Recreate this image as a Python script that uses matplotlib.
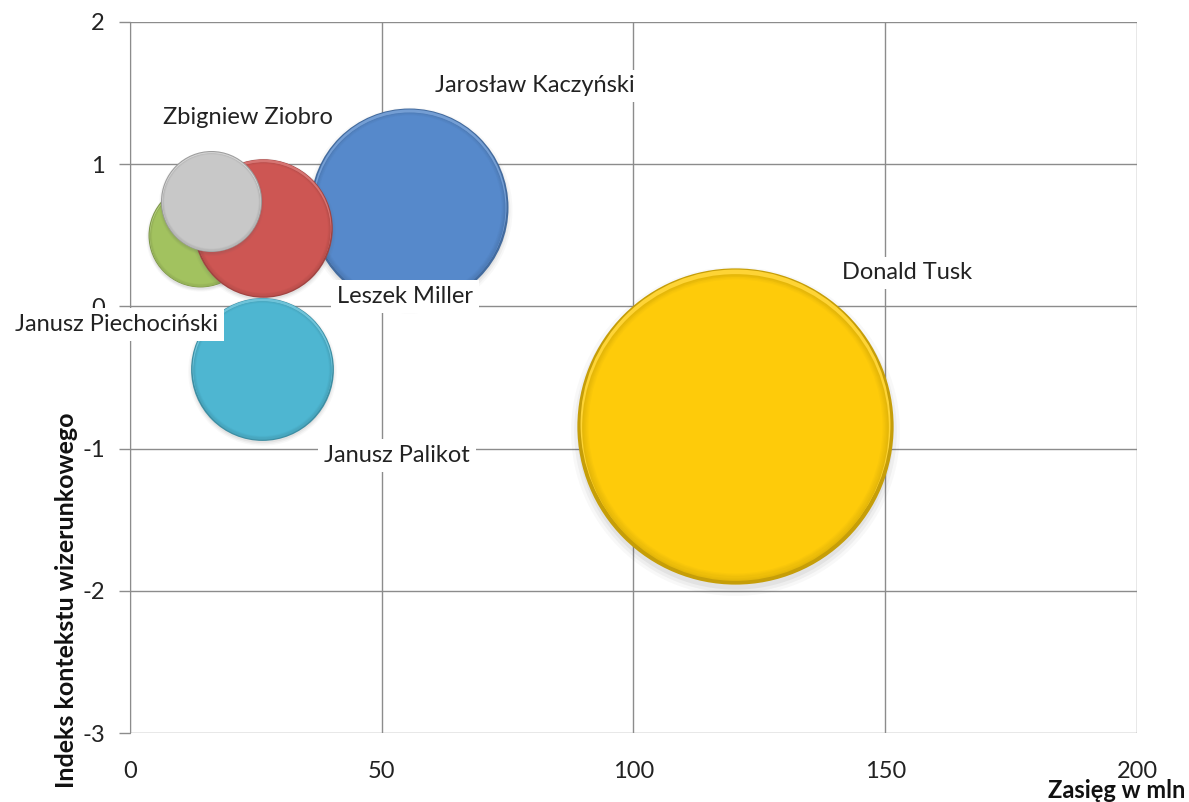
import numpy as np
import matplotlib
matplotlib.use("Agg")
import matplotlib.pyplot as plt
from matplotlib.colors import to_rgb
from matplotlib.transforms import offset_copy

# Politicians: reach (mln), image-context index, bubble size
nazwiska = ["Donald Tusk", "Jarosław Kaczyński", "Janusz Piechociński",
            "Leszek Miller", "Zbigniew Ziobro", "Janusz Palikot"]
zasieg = [120.1, 55.4, 13.9, 26.4, 16.1, 26.2]
indeks = [-0.84, 0.70, 0.50, 0.55, 0.74, -0.44]
wielkosc = [250, 98, 27, 48, 25.5, 51]
kolory = ["#FECB0A", "#5689CB", "#A2C25F", "#CD5653", "#C8C8C8", "#4EB6D1"]

# label anchor points (data coords)
etykiety_x = [154.3, 80.4, -2.6, 54.6, 23.4, 53.0]
etykiety_y = [0.235, 1.55, -0.13, 0.07, 1.33, -1.05]

x_ticks = [0, 50, 100, 150, 200]
y_ticks = [-3, -2, -1, 0, 1, 2]

FONT = ["Lato", "DejaVu Sans"]
DPI = 100

fig = plt.figure(figsize=(11.89, 8.02), dpi=DPI)
ax = fig.add_axes([0.1093, 0.0860, 0.9563 - 0.1093, 0.9726 - 0.0860])
ax.set_xlim(0, 200)
ax.set_ylim(-3, 2)
ax.set_xticks(x_ticks)
ax.set_yticks(y_ticks)
ax.set_xticklabels([str(v) for v in x_ticks])
ax.set_yticklabels([str(v) for v in y_ticks])

grid_c = "#8C8C8C"
ax.grid(True, color=grid_c, linewidth=1.0)
ax.set_axisbelow(True)
for s in ["top", "right", "bottom"]:
    ax.spines[s].set_visible(False)
ax.spines["left"].set_color(grid_c)
ax.tick_params(axis="y", length=8, color=grid_c, width=1.0, pad=10,
               labelsize=17, labelcolor="#222222")
ax.tick_params(axis="x", length=0, pad=20, labelsize=17, labelcolor="#222222")
for lab in ax.get_xticklabels() + ax.get_yticklabels():
    lab.set_family(FONT)


def mix(c, other, t):
    c = np.array(to_rgb(c))
    o = np.array(to_rgb(other))
    return tuple(c * (1 - t) + o * t)


def area(r_px):
    d_pt = 2 * r_px * 72.0 / DPI
    return d_pt ** 2


z = 3
for x, y, w, c in zip(zasieg, indeks, wielkosc, kolory):
    r = 10.0 * np.sqrt(w)
    # soft shadow under the bubble
    for k, a in zip([1.04, 1.02, 1.0], [0.04, 0.06, 0.08]):
        tr = offset_copy(ax.transData, fig=fig, x=0, y=-0.03 * r, units="dots")
        ax.scatter([x], [y], s=area(r * k), color="#555555", alpha=a,
                   linewidths=0, transform=tr, zorder=z)
    # dark outer rim
    ax.scatter([x], [y], s=area(r), color=mix(c, "black", 0.22),
               linewidths=0, zorder=z + 0.1)
    # light bevel towards the top
    tr = offset_copy(ax.transData, fig=fig, x=0, y=0.01 * r, units="dots")
    ax.scatter([x], [y], s=area(r * 0.98), color=mix(c, "white", 0.18),
               linewidths=0, transform=tr, zorder=z + 0.2)
    # gradient from rim into the face
    steps = 6
    for i in range(steps):
        t = i / (steps - 1)
        rr = r * (0.97 - 0.04 * t)
        col = mix(mix(c, "black", 0.10), c, t)
        tr = offset_copy(ax.transData, fig=fig, x=0, y=-0.01 * r * (1 - t),
                         units="dots")
        ax.scatter([x], [y], s=area(rr), color=col, linewidths=0,
                   transform=tr, zorder=z + 0.3 + 0.01 * i)
    z += 1

for name, lx, ly in zip(nazwiska, etykiety_x, etykiety_y):
    ax.text(lx, ly, name, ha="center", va="center", fontsize=17,
            family=FONT, color="#222222", zorder=20, clip_on=False,
            bbox=dict(boxstyle="square,pad=0.25", fc="white", ec="none"))

fig.text(0.997, 0.0, "Zasięg w mln", ha="right", va="bottom",
         fontsize=17, fontweight="bold", family=FONT, color="#111111")
fig.text(0.056, 0.251, "Indeks kontekstu wizerunkowego", ha="center",
         va="center", rotation=90, fontsize=18, fontweight="bold",
         family=FONT, color="#111111")

fig.savefig("out.png", dpi=DPI)
